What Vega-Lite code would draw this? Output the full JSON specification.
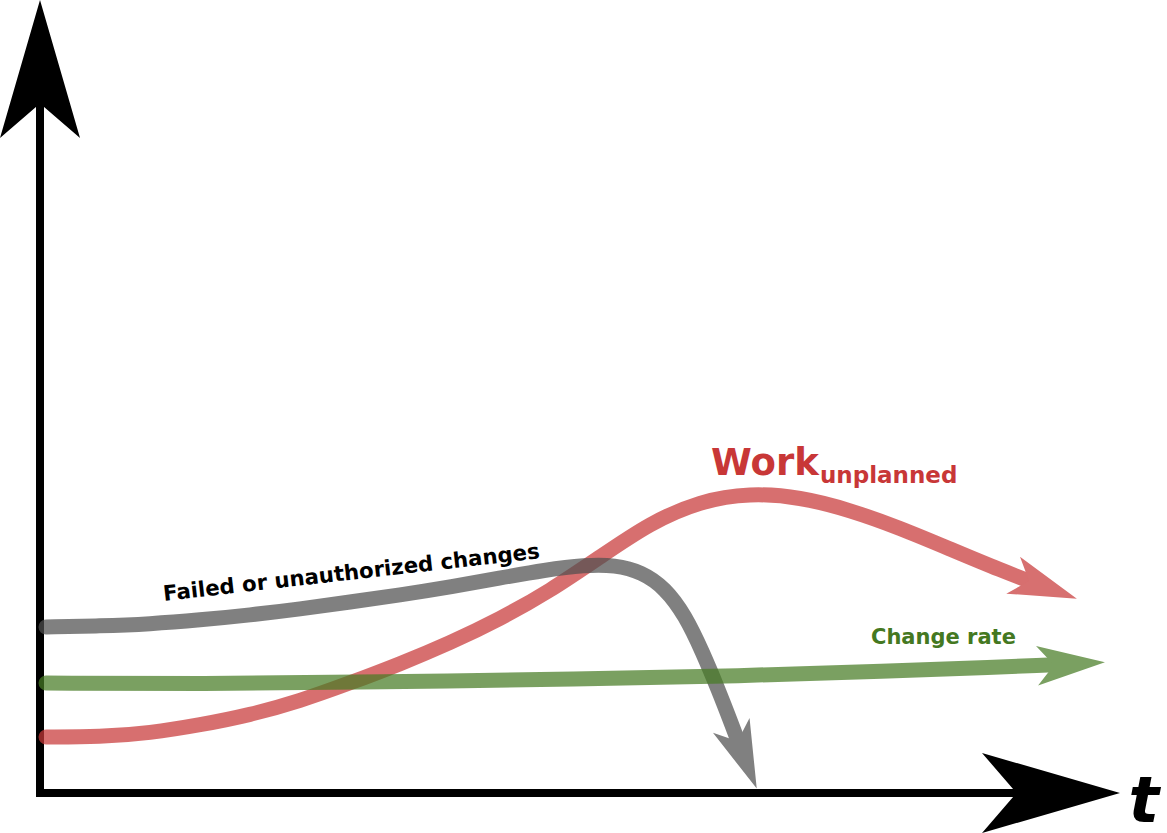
{
  "$schema": "https://vega.github.io/schema/vega-lite/v6.json",
  "width": 1167,
  "height": 833,
  "autosize": {"type": "none"},
  "padding": 0,
  "background": "white",
  "config": {"view": {"stroke": null}},
  "datasets": {
    "curves": [
      {"series": "work", "t": 46, "v": 96},
      {"series": "work", "t": 100, "v": 96},
      {"series": "work", "t": 150, "v": 100},
      {"series": "work", "t": 200, "v": 108},
      {"series": "work", "t": 250, "v": 118},
      {"series": "work", "t": 300, "v": 132},
      {"series": "work", "t": 350, "v": 150},
      {"series": "work", "t": 400, "v": 169},
      {"series": "work", "t": 450, "v": 190},
      {"series": "work", "t": 500, "v": 214},
      {"series": "work", "t": 550, "v": 242},
      {"series": "work", "t": 600, "v": 276},
      {"series": "work", "t": 650, "v": 310},
      {"series": "work", "t": 700, "v": 332},
      {"series": "work", "t": 750, "v": 340},
      {"series": "work", "t": 800, "v": 336},
      {"series": "work", "t": 850, "v": 323},
      {"series": "work", "t": 900, "v": 305},
      {"series": "work", "t": 950, "v": 284},
      {"series": "work", "t": 1000, "v": 263},
      {"series": "work", "t": 1045, "v": 246},
      {"series": "failed", "t": 46, "v": 206},
      {"series": "failed", "t": 100, "v": 207},
      {"series": "failed", "t": 150, "v": 209},
      {"series": "failed", "t": 200, "v": 213},
      {"series": "failed", "t": 250, "v": 218},
      {"series": "failed", "t": 300, "v": 224},
      {"series": "failed", "t": 350, "v": 231},
      {"series": "failed", "t": 400, "v": 238},
      {"series": "failed", "t": 450, "v": 246},
      {"series": "failed", "t": 500, "v": 255},
      {"series": "failed", "t": 545, "v": 263},
      {"series": "failed", "t": 585, "v": 268},
      {"series": "failed", "t": 615, "v": 268},
      {"series": "failed", "t": 642, "v": 261},
      {"series": "failed", "t": 665, "v": 245},
      {"series": "failed", "t": 685, "v": 218},
      {"series": "failed", "t": 703, "v": 180},
      {"series": "failed", "t": 718, "v": 144},
      {"series": "failed", "t": 732, "v": 108},
      {"series": "failed", "t": 744, "v": 76},
      {"series": "change", "t": 46, "v": 150},
      {"series": "change", "t": 200, "v": 149},
      {"series": "change", "t": 380, "v": 151},
      {"series": "change", "t": 580, "v": 154},
      {"series": "change", "t": 740, "v": 157},
      {"series": "change", "t": 887, "v": 162},
      {"series": "change", "t": 1000, "v": 166},
      {"series": "change", "t": 1037, "v": 167.5},
      {"series": "change", "t": 1071, "v": 169}
    ],
    "heads": [
      {"series": "work", "t": 1045, "v": 246, "direction": 20.4},
      {"series": "change", "t": 1071, "v": 169, "direction": 357},
      {"series": "failed", "t": 744, "v": 76, "direction": 68}
    ],
    "axisLines": [
      {"axis": "t", "t": 36, "v": 40, "t2": 1040, "v2": 40},
      {"axis": "y", "t": 40, "v": 36, "t2": 40, "v2": 740}
    ],
    "axisHeads": [
      {"axis": "t", "t": 1051, "v": 40, "direction": 0},
      {"axis": "y", "t": 40, "v": 764, "direction": 270}
    ],
    "labels": [
      {"label": "Failed or unauthorized changes", "t": 164, "v": 232},
      {"label": "Change rate", "t": 871, "v": 189},
      {"label": "Work", "t": 711, "v": 358},
      {"label": "unplanned", "t": 820, "v": 350},
      {"label": "t", "t": 1159, "v": 11}
    ]
  },
  "encoding": {
    "x": {"field": "t", "type": "quantitative", "scale": {"domain": [0, 1167], "nice": false, "zero": false}, "axis": null},
    "y": {"field": "v", "type": "quantitative", "scale": {"domain": [0, 833], "nice": false, "zero": false}, "axis": null}
  },
  "layer": [
    {
      "data": {"name": "axisLines"},
      "mark": {"type": "rule", "color": "black", "strokeWidth": 8, "strokeCap": "butt"},
      "encoding": {"x2": {"field": "t2"}, "y2": {"field": "v2"}}
    },
    {
      "data": {"name": "axisHeads"},
      "mark": {"type": "point", "shape": "M1,0L-1,-0.58L-0.5,0L-1,0.58Z", "filled": true, "size": 19044, "color": "black", "opacity": 1, "strokeWidth": 0},
      "encoding": {"angle": {"field": "direction", "type": "quantitative", "scale": null}}
    },
    {
      "data": {"name": "curves"},
      "mark": {"type": "line", "interpolate": "basis", "strokeWidth": 15, "strokeOpacity": 0.72, "strokeCap": "round", "strokeJoin": "round"},
      "encoding": {
        "stroke": {"field": "series", "type": "nominal", "scale": {"domain": ["failed", "change", "work"], "range": ["#4f4f4f", "#467b24", "#c73838"]}, "legend": null}
      }
    },
    {
      "data": {"name": "heads"},
      "mark": {"type": "point", "shape": "M1,0L-1,-0.58L-0.5,0L-1,0.58Z", "filled": true, "size": 4624, "opacity": 1, "strokeWidth": 0},
      "encoding": {
        "fill": {"field": "series", "type": "nominal", "scale": {"domain": ["failed", "change", "work"], "range": ["#808080", "#7aa061", "#d77070"]}, "legend": null},
        "angle": {"field": "direction", "type": "quantitative", "scale": null}
      }
    },
    {
      "data": {"name": "labels"},
      "transform": [{"filter": "datum.label === 'Failed or unauthorized changes'"}],
      "mark": {"type": "text", "align": "left", "baseline": "alphabetic", "angle": 353.5, "font": "DejaVu Sans", "fontWeight": "bold", "fontSize": 21.3, "color": "black"},
      "encoding": {"text": {"field": "label"}}
    },
    {
      "data": {"name": "labels"},
      "transform": [{"filter": "datum.label === 'Change rate'"}],
      "mark": {"type": "text", "align": "left", "baseline": "alphabetic", "font": "DejaVu Sans", "fontWeight": "bold", "fontSize": 21, "color": "#447821"},
      "encoding": {"text": {"field": "label"}}
    },
    {
      "data": {"name": "labels"},
      "transform": [{"filter": "datum.label === 'Work'"}],
      "mark": {"type": "text", "align": "left", "baseline": "alphabetic", "font": "DejaVu Sans", "fontWeight": "bold", "fontSize": 37, "color": "#c83737"},
      "encoding": {"text": {"field": "label"}}
    },
    {
      "data": {"name": "labels"},
      "transform": [{"filter": "datum.label === 'unplanned'"}],
      "mark": {"type": "text", "align": "left", "baseline": "alphabetic", "font": "DejaVu Sans", "fontWeight": "bold", "fontSize": 23, "color": "#c83737"},
      "encoding": {"text": {"field": "label"}}
    },
    {
      "data": {"name": "labels"},
      "transform": [{"filter": "datum.label === 't'"}],
      "mark": {"type": "text", "align": "right", "baseline": "alphabetic", "font": "DejaVu Sans", "fontWeight": "bold", "fontStyle": "italic", "fontSize": 64, "color": "black"},
      "encoding": {"text": {"field": "label"}}
    }
  ]
}
